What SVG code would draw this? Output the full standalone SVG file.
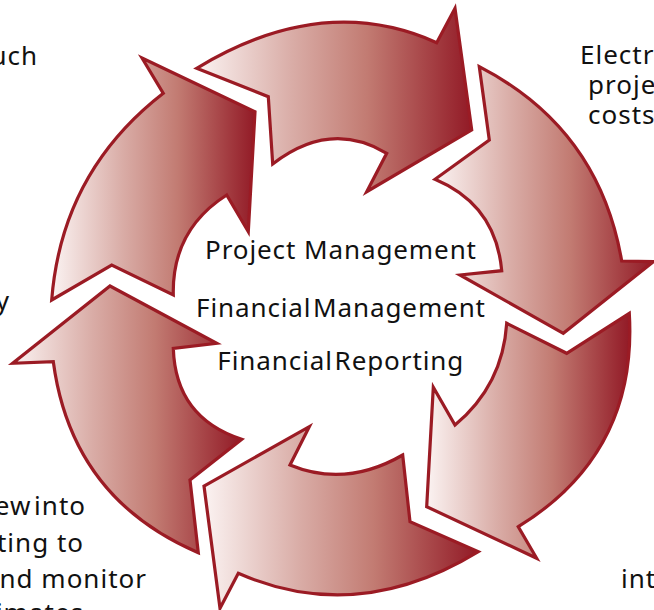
<svg xmlns="http://www.w3.org/2000/svg" width="654" height="610" viewBox="0 0 654 610">
  <defs>
    <linearGradient id="g" x1="0" y1="0" x2="1" y2="0">
      <stop offset="0" stop-color="#fbf3f2"/>
      <stop offset="0.35" stop-color="#d9aca6"/>
      <stop offset="0.62" stop-color="#c27b72"/>
      <stop offset="1" stop-color="#921a26"/>
    </linearGradient>
  </defs>
  <style>
    .arrow { fill: url(#g); stroke: #9b1b24; stroke-width: 3.2; stroke-linejoin: miter; stroke-miterlimit: 10; }
    .t { font-family: "Noto Sans", "Liberation Sans", sans-serif; font-size: 26px; fill: #111; }
  </style>
  <rect width="654" height="610" fill="#ffffff"/>
  <g id="connectors">
    <g id="arrow-top">
      <path class="arrow" d="M196.7,68.3 L268.3,96.7 L272.7,164 Q330.3,119.4 386.7,153.3 L366.7,191.7 L471.7,130 L455,8.3 L436.7,42.7 Q323.3,-8.5 196.7,68.3 Z"/>
    </g>
    <g id="arrow-right">
      <path class="arrow" d="M479.3,66.7 L489.3,140 L435,179.3 Q495.9,205 501.7,270.7 L460,275 L563.3,333.3 L653.3,261.7 L621.7,261 Q598.9,128.4 479.3,66.7 Z"/>
    </g>
    <g id="arrow-lower-right">
      <path class="arrow" d="M506.7,323.3 L566.7,353.3 L629.3,313.3 Q637.6,453.2 518.3,526.7 L536.7,558.3 L426.7,506.7 L433.3,387.3 L455,425 Q502.7,385.2 506.7,323.3 Z"/>
    </g>
    <g id="arrow-bottom">
      <path class="arrow" d="M478.3,551.7 L410,521.7 L402.7,455 Q345.7,488 290,465 L309.3,426.7 L204,486 L220,608.3 L238.3,573.3 Q357.7,625.5 478.3,551.7 Z"/>
    </g>
    <g id="arrow-lower-left">
      <path class="arrow" d="M110,286 L216.7,343.3 L173.3,348.3 Q175.5,417.8 241.7,439.3 L190,480 L198.3,552.7 Q71.6,498.4 53.3,361.7 L12.7,363.3 Z"/>
    </g>
    <g id="arrow-upper-left">
      <path class="arrow" d="M142,58 L163.3,93.3 Q61.7,172 51.7,300 L111.7,265 L173.3,295 Q171.8,230 226.7,195 L248.3,231.7 L255,111.7 Z"/>
    </g>
  </g>
  <g id="center-label">
    <text class="t" x="205" y="259.3" textLength="271" lengthAdjust="spacing">Project Management</text>
    <text class="t" x="196" y="317.3" textLength="289" lengthAdjust="spacing" word-spacing="-6">Financial Management</text>
    <text class="t" x="217.3" y="370" textLength="246" lengthAdjust="spacing" word-spacing="-6">Financial Reporting</text>
  </g>
  <g id="side-texts">
    <text class="t" x="38" y="64.5" text-anchor="end" letter-spacing="1">uch</text>
    <text class="t" x="580" y="64" letter-spacing="1">Electro</text>
    <text class="t" x="588" y="94" letter-spacing="1">proje</text>
    <text class="t" x="588" y="124" letter-spacing="1">costs</text>
    <text class="t" x="9" y="310" text-anchor="end">y</text>
    <text class="t" x="86" y="515" text-anchor="end" letter-spacing="1" word-spacing="-5">ew into</text>
    <text class="t" x="84" y="551.7" text-anchor="end" letter-spacing="1">ting to</text>
    <text class="t" x="147" y="588.3" text-anchor="end" letter-spacing="1">nd monitor</text>
    <text class="t" x="84" y="622" text-anchor="end" letter-spacing="1">imates</text>
    <text class="t" x="621" y="588" letter-spacing="1">int</text>
  </g>
</svg>
